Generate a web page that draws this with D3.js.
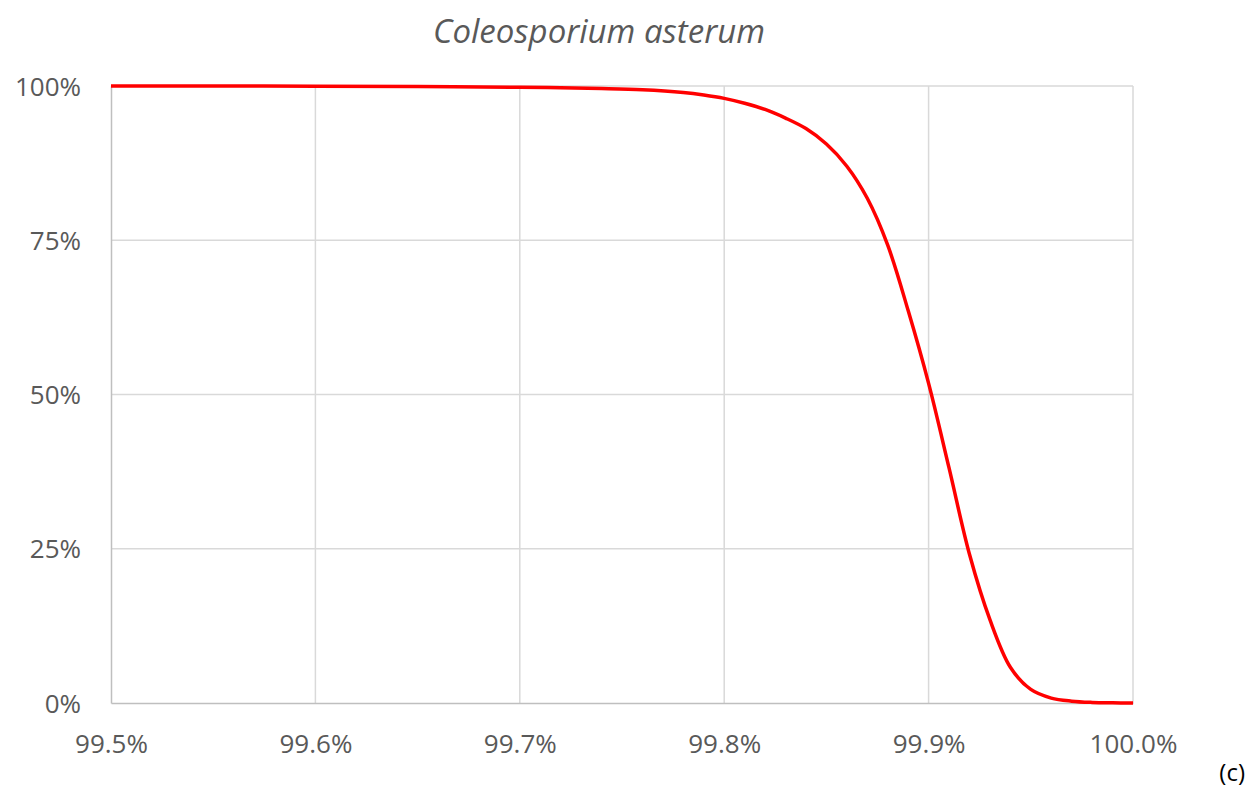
<!DOCTYPE html>
<html>
<head>
<meta charset="utf-8">
<script src="https://cdn.jsdelivr.net/npm/d3@7"></script>
<style>
  html, body { margin: 0; padding: 0; background: #ffffff; }
  svg { display: block; font-family: "Open Sans", "Segoe UI", sans-serif; }
</style>
</head>
<body>
<svg id="chart" width="1253" height="788"></svg>
<script>
// Identity threshold (%) and fraction of pairs above it (%)
const identity = [99.50, 99.55, 99.60, 99.65, 99.70, 99.72, 99.74, 99.76, 99.78, 99.79, 99.80, 99.81, 99.82, 99.83, 99.84, 99.85, 99.86, 99.87, 99.88, 99.89, 99.90, 99.91, 99.92, 99.93, 99.94, 99.95, 99.96, 99.97, 99.98, 99.99, 100.0];
const share    = [100, 99.99, 99.97, 99.92, 99.8, 99.72, 99.6, 99.4, 98.95, 98.55, 98.0, 97.2, 96.2, 94.8, 93.1, 90.6, 87.0, 81.8, 74.2, 63.6, 51.8, 38.1, 24.1, 13.5, 5.8, 2.2, 0.8, 0.3, 0.1, 0.03, 0];

const xTicks = [99.5, 99.6, 99.7, 99.8, 99.9, 100.0];
const yTicks = [0, 25, 50, 75, 100];
const title = "Coleosporium asterum";
const panelTag = "(c)";

const svg = d3.select("#chart");
const m = { left: 111, top: 86, right: 1253 - 1133, bottom: 788 - 703 };
const W = 1253 - m.left - m.right;
const H = 788 - m.top - m.bottom;

const x = d3.scaleLinear().domain([99.5, 100.0]).range([m.left, m.left + W]);
const y = d3.scaleLinear().domain([0, 100]).range([m.top + H, m.top]);

// gridlines
const grid = svg.append("g");
grid.selectAll("line.v").data(xTicks.slice(1)).join("line")
  .attr("x1", d => x(d)).attr("x2", d => x(d))
  .attr("y1", m.top).attr("y2", m.top + H)
  .attr("stroke", "#d9d9d9").attr("stroke-width", 1.5);
grid.selectAll("line.h").data(yTicks.slice(1)).join("line")
  .attr("x1", m.left).attr("x2", m.left + W)
  .attr("y1", d => y(d)).attr("y2", d => y(d))
  .attr("stroke", "#d9d9d9").attr("stroke-width", 1.5);

// axes
const xAxis = d3.axisBottom(x).tickValues(xTicks).tickSize(0)
  .tickFormat(d => d.toFixed(1) + "%");
const yAxis = d3.axisLeft(y).tickValues(yTicks).tickSize(0).tickPadding(30)
  .tickFormat(d => d + "%");

const gx = svg.append("g").attr("transform", `translate(0,${m.top + H})`).call(xAxis);
const gy = svg.append("g").attr("transform", `translate(${m.left},0)`).call(yAxis);
[gx, gy].forEach(g => {
  g.select(".domain").attr("stroke", "#bfbfbf").attr("stroke-width", 1.5);
  g.selectAll("text").attr("fill", "#595959").style("font-size", "26px")
    .style("font-family", "\"Open Sans\", sans-serif");
});
gx.selectAll("text").attr("y", 41).attr("dy", "0.35em");
gy.selectAll("text").attr("dy", "0.35em");

// curve
const line = d3.line()
  .x((d, i) => x(identity[i]))
  .y(d => y(d))
  .curve(d3.curveCatmullRom.alpha(0.5));
svg.append("path")
  .datum(share)
  .attr("d", line)
  .attr("fill", "none")
  .attr("stroke", "#ff0000")
  .attr("stroke-width", 3.5)
  .attr("stroke-linejoin", "round");

// title
svg.append("text")
  .attr("x", 599).attr("y", 30)
  .attr("text-anchor", "middle").attr("dominant-baseline", "central")
  .attr("fill", "#595959")
  .style("font-size", "33px").style("font-style", "italic")
  .text(title);

// panel tag
svg.append("text")
  .attr("x", 1245).attr("y", 771)
  .attr("text-anchor", "end").attr("dominant-baseline", "central")
  .attr("fill", "#000000")
  .style("font-size", "24px")
  .text(panelTag);
</script>
</body>
</html>
